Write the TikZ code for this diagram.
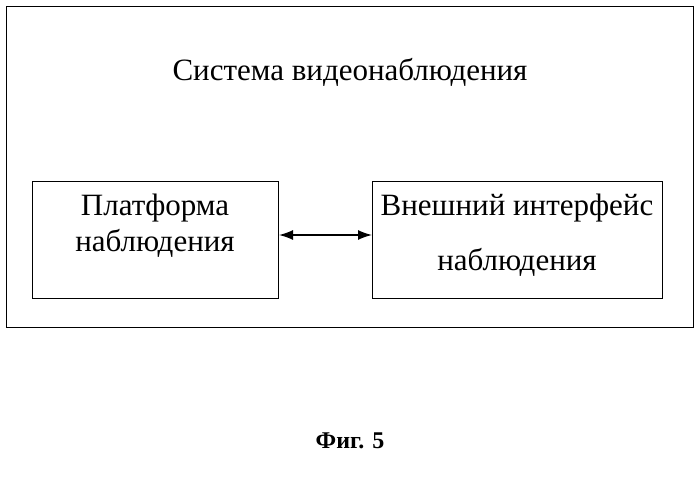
\documentclass[tikz,border=0pt]{standalone}
\usepackage{fontspec}
\setmainfont{Liberation Serif}
\usetikzlibrary{arrows.meta}
\begin{document}
\begin{tikzpicture}[x=1pt,y=-1pt,line width=1pt,
  lbl/.style={font=\fontsize{31}{31}\selectfont,inner sep=0pt},
  boxs/.style={draw}]
\useasboundingbox (0,0) rectangle (699,484);
\node[draw,minimum width=687pt,minimum height=321pt,anchor=north west] (outer) at (6,6) {};
\node[lbl] (title) at (350,72) {Система видеонаблюдения};
\node[boxs,minimum width=246pt,minimum height=117pt,anchor=north west] (left) at (32,181) {};
\node[boxs,minimum width=290pt,minimum height=117pt,anchor=north west] (right) at (372,181) {};
\node[lbl] (l1) at (155,208) {Платформа};
\node[lbl] (l2) at (155,243) {наблюдения};
\node[lbl] (r1) at (517,208) {Внешний интерфейс};
\node[lbl] (r2) at (517,262) {наблюдения};
\draw[line width=1.5pt,{Latex[length=14pt,width=10pt]}-{Latex[length=14pt,width=10pt]}] (left.east |- 0,235) -- (right.west |- 0,235);
\node[lbl,font=\fontsize{24}{24}\selectfont\bfseries] (fig) at (350,441) {Фиг. 5};
\end{tikzpicture}
\end{document}
